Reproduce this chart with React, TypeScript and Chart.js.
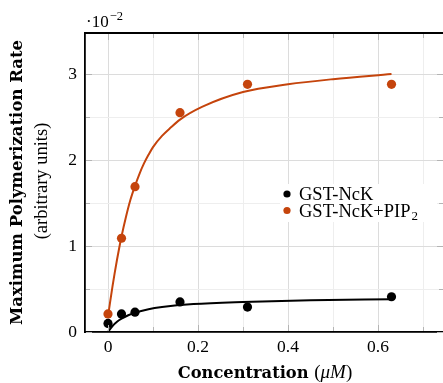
import React, { useEffect, useRef } from "react";
import { Chart, registerables } from "chart.js";
Chart.register(...registerables);

// Measured points (values ×10^-2)
const CONC = [0, 0.03, 0.06, 0.16, 0.31, 0.63];
const NCK_RATE = [0.1, 0.21, 0.23, 0.35, 0.29, 0.41];
const PIP_RATE = [0.21, 1.09, 1.69, 2.55, 2.88, 2.88];

// Fitted curves
const NCK_FIT_X = [0, 0.01, 0.02, 0.03, 0.045, 0.06, 0.09, 0.12, 0.19, 0.3, 0.45, 0.63];
const NCK_FIT_Y = [0, 0.07, 0.12, 0.155, 0.195, 0.225, 0.265, 0.29, 0.325, 0.35, 0.37, 0.38];
const PIP_FIT_X = [0, 0.005, 0.01, 0.015, 0.02, 0.025, 0.03, 0.04, 0.05, 0.06, 0.07, 0.08, 0.09, 0.1, 0.12, 0.14, 0.16, 0.21, 0.3, 0.4, 0.5, 0.63];
const PIP_FIT_Y = [0.18, 0.36, 0.53, 0.69, 0.84, 0.98, 1.11, 1.34, 1.54, 1.7, 1.84, 1.96, 2.06, 2.15, 2.28, 2.38, 2.47, 2.62, 2.79, 2.88, 2.94, 3.0];

const X_TICKS = [0, 0.1, 0.2, 0.3, 0.4, 0.5, 0.6, 0.7];
const X_LABELED = [0, 0.2, 0.4, 0.6];
const Y_TICKS = [0, 0.5, 1, 1.5, 2, 2.5, 3];
const Y_LABELED = [0, 1, 2, 3];

const SERIES_NAMES = ["GST-NcK", "GST-NcK+PIP"];
const SERIES_SUB = ["", "2"];
const COLORS = ["#000000", "#c5440c"];
const X_TITLE = "Concentration";
const X_UNIT = "μM";
const Y_TITLE = "Maximum Polymerization Rate";
const Y_SUBTITLE = "(arbitrary units)";

const SERIF = "'Liberation Serif', serif";
const BOLD_SERIF = "'DejaVu Serif', serif";

const near = (a: number, list: number[]) => list.some((v) => Math.abs(v - a) < 1e-6);

const decorPlugin = {
  id: "decor",
  afterDraw(chart: any) {
    const { ctx, chartArea: a } = chart;
    const xs = chart.scales.x;
    const ys = chart.scales.y;
    ctx.save();
    // inner tick marks
    ctx.strokeStyle = "#b4b4b4";
    ctx.lineWidth = 1;
    X_TICKS.forEach((v) => {
      const px = Math.round(xs.getPixelForValue(v)) + 0.5;
      const len = near(v, X_LABELED) ? 6 : 4;
      ctx.beginPath();
      ctx.moveTo(px, a.bottom - 1);
      ctx.lineTo(px, a.bottom - 1 - len);
      ctx.moveTo(px, a.top + 1);
      ctx.lineTo(px, a.top + 1 + len);
      ctx.stroke();
    });
    const rightEdge = 443;
    Y_TICKS.forEach((v) => {
      const py = Math.round(ys.getPixelForValue(v)) + 0.5;
      const len = near(v, Y_LABELED) ? 6 : 4;
      ctx.beginPath();
      ctx.moveTo(a.left + 1, py);
      ctx.lineTo(a.left + 1 + len, py);
      ctx.moveTo(rightEdge, py);
      ctx.lineTo(rightEdge - len, py);
      ctx.stroke();
    });
    // top border
    ctx.strokeStyle = "#000";
    ctx.lineWidth = 1.8;
    ctx.beginPath();
    ctx.moveTo(a.left - 0.9, a.top);
    ctx.lineTo(a.right, a.top);
    ctx.stroke();

    // legend box
    ctx.fillStyle = "#fff";
    ctx.fillRect(280, 184, 157, 38);
    const rows = [200, 216.5];
    SERIES_NAMES.forEach((name, i) => {
      ctx.fillStyle = COLORS[i];
      ctx.beginPath();
      ctx.arc(287, rows[i] - 6, 3.6, 0, Math.PI * 2);
      ctx.fill();
      ctx.fillStyle = "#000";
      ctx.font = `18.5px ${SERIF}`;
      ctx.textAlign = "left";
      ctx.textBaseline = "alphabetic";
      ctx.fillText(name, 299, rows[i]);
      const w = ctx.measureText(name).width;
      if (SERIES_SUB[i]) {
        ctx.font = `13px ${SERIF}`;
        ctx.fillText(SERIES_SUB[i], 299 + w + 1, rows[i] + 3.5);
      }
    });

    // ·10^-2
    ctx.fillStyle = "#000";
    ctx.textAlign = "left";
    ctx.textBaseline = "alphabetic";
    ctx.font = `17px ${SERIF}`;
    ctx.fillText("·10", 86, 26.5);
    const w10 = ctx.measureText("·10").width;
    ctx.font = `12.5px ${SERIF}`;
    ctx.fillText("−2", 86 + w10 + 1, 20);

    // x title
    const bFont = `bold 16.3px ${BOLD_SERIF}`;
    const rFont = `19px ${SERIF}`;
    const iFont = `italic 19px ${SERIF}`;
    ctx.font = bFont;
    const wC = ctx.measureText(X_TITLE + " ").width;
    ctx.font = rFont;
    const wP = ctx.measureText("(").width;
    ctx.font = iFont;
    const wU = ctx.measureText(X_UNIT).width;
    const total = wC + wP * 2 + wU;
    let x0 = 265 - total / 2;
    ctx.font = bFont;
    ctx.fillText(X_TITLE, x0, 378);
    x0 += wC;
    ctx.font = rFont;
    ctx.fillText("(", x0, 378);
    x0 += wP;
    ctx.font = iFont;
    ctx.fillText(X_UNIT, x0, 378);
    x0 += wU;
    ctx.font = rFont;
    ctx.fillText(")", x0, 378);

    // y titles
    ctx.save();
    ctx.translate(18, 182.5);
    ctx.rotate(-Math.PI / 2);
    ctx.textAlign = "center";
    ctx.textBaseline = "middle";
    ctx.font = `bold 16.5px ${BOLD_SERIF}`;
    ctx.fillText(Y_TITLE, 0, 0);
    ctx.restore();
    ctx.save();
    ctx.translate(42, 181);
    ctx.rotate(-Math.PI / 2);
    ctx.textAlign = "center";
    ctx.textBaseline = "middle";
    ctx.font = `18.5px ${SERIF}`;
    ctx.fillText(Y_SUBTITLE, 0, 0);
    ctx.restore();

    ctx.restore();
  },
};

export default function App() {
  const ref = useRef<HTMLCanvasElement | null>(null);
  useEffect(() => {
    document.body.style.margin = "0";
    const canvas = ref.current;
    if (!canvas) return;
    const pts = (xs: number[], ys: number[]) => xs.map((x, i) => ({ x, y: ys[i] }));
    const chart = new Chart(canvas, {
      type: "scatter",
      data: {
        datasets: [
          {
            data: pts(CONC, NCK_RATE),
            backgroundColor: COLORS[0],
            borderColor: COLORS[0],
            pointRadius: 4.6,
            pointBorderWidth: 0,
            order: 0,
          },
          {
            data: pts(CONC, PIP_RATE),
            backgroundColor: COLORS[1],
            borderColor: COLORS[1],
            pointRadius: 4.6,
            pointBorderWidth: 0,
            order: 0,
          },
          {
            data: pts(NCK_FIT_X, NCK_FIT_Y),
            showLine: true,
            borderColor: COLORS[0],
            borderWidth: 2,
            pointRadius: 0,
            cubicInterpolationMode: "monotone",
            order: 1,
          },
          {
            data: pts(PIP_FIT_X, PIP_FIT_Y),
            showLine: true,
            borderColor: COLORS[1],
            borderWidth: 2,
            pointRadius: 0,
            cubicInterpolationMode: "monotone",
            order: 2,
          },
        ],
      } as any,
      options: {
        animation: false,
        responsive: false,
        maintainAspectRatio: false,
        layout: { padding: { top: 33, left: 0, right: 0, bottom: 0 } },
        plugins: { legend: { display: false }, tooltip: { enabled: false } },
        scales: {
          x: {
            type: "linear",
            min: -0.0511,
            max: 0.78,
            afterBuildTicks: (s: any) => {
              s.ticks = X_TICKS.map((v) => ({ value: v }));
            },
            afterFit: (s: any) => {
              s.height = 51;
            },
            ticks: {
              autoSkip: false,
              maxRotation: 0,
              padding: 5,
              color: "#000",
              font: { family: SERIF, size: 17.5 },
              callback: (v: any) => (near(Number(v), X_LABELED) ? String(Number(v)) : ""),
            },
            grid: {
              drawTicks: false,
              color: (c: any) => (near(c.tick?.value, X_LABELED) ? "#dcdcdc" : "#eeeeee"),
              lineWidth: 1,
            },
            border: { color: "#000", width: 1.8 },
          },
          y: {
            type: "linear",
            min: 0,
            max: 3.48,
            afterBuildTicks: (s: any) => {
              s.ticks = Y_TICKS.map((v) => ({ value: v }));
            },
            afterFit: (s: any) => {
              s.width = 85;
            },
            ticks: {
              autoSkip: false,
              padding: 8,
              color: "#000",
              font: { family: SERIF, size: 17.5 },
              callback: (v: any) => (near(Number(v), Y_LABELED) ? String(Number(v)) : ""),
            },
            grid: {
              drawTicks: false,
              color: (c: any) => (near(c.tick?.value, Y_LABELED) ? "#dcdcdc" : "#eeeeee"),
              lineWidth: 1,
            },
            border: { color: "#000", width: 1.8 },
          },
        },
      } as any,
      plugins: [decorPlugin],
    });
    // Align the value scales with the plotting area that the layout produced
    const ca = chart.chartArea;
    const xo: any = (chart.options as any).scales.x;
    const yo: any = (chart.options as any).scales.y;
    xo.min = (ca.left - 108) / 450;
    xo.max = (ca.right - 108) / 450;
    yo.min = (332 - ca.bottom) / 86;
    yo.max = (332 - ca.top) / 86;
    chart.update();
    return () => chart.destroy();
  }, []);
  return (
    <div style={{ width: 443, height: 383, overflow: "hidden" }}>
      <canvas ref={ref} width={480} height={383} style={{ display: "block" }} />
    </div>
  );
}
